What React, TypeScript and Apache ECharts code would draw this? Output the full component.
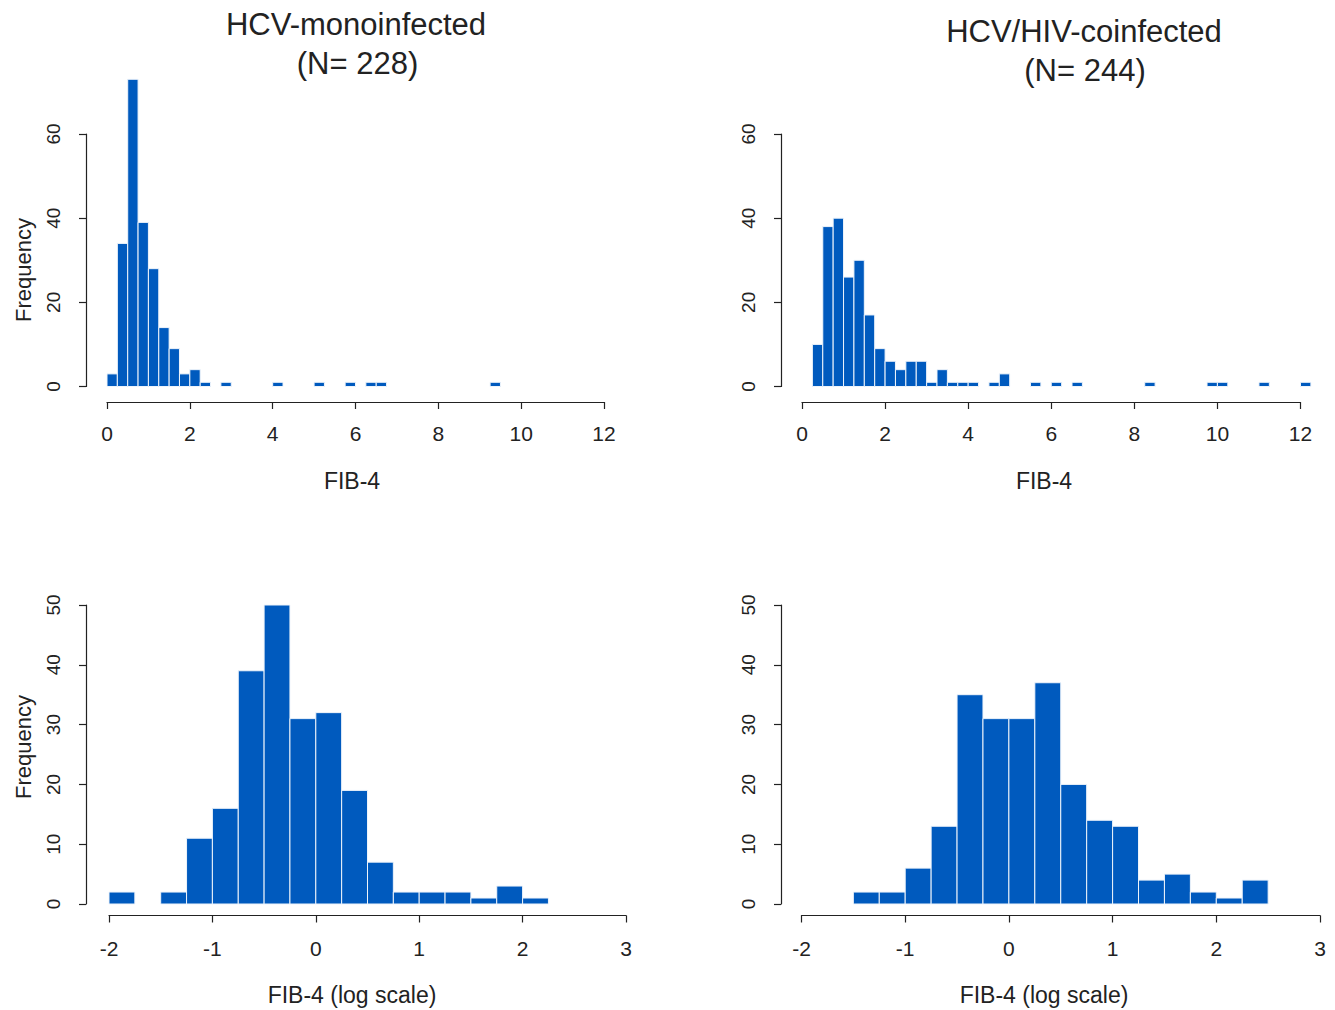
import React, { useEffect, useRef } from "react";
import * as echarts from "echarts";

// ---------- data ----------
// FIB-4 histograms, bin width 0.25 starting at 0 (linear scale)
const LINEAR_BIN_START = 0;
const LINEAR_BIN_WIDTH = 0.25;
const monoLinearCounts = [
  3, 34, 73, 39, 28, 14, 9, 3, 4, 1, 0, 1, 0, 0, 0, 0, 1, 0, 0, 0, 1, 0, 0, 1, 0, 1, 1, 0, 0, 0, 0, 0, 0, 0, 0, 0, 0,
  1,
];
const coLinearCounts = [
  0, 10, 38, 40, 26, 30, 17, 9, 6, 4, 6, 6, 1, 4, 1, 1, 1, 0, 1, 3, 0, 0, 1, 0, 1, 0, 1, 0, 0, 0, 0, 0, 0, 1, 0, 0, 0,
  0, 0, 1, 1, 0, 0, 0, 1, 0, 0, 0, 1,
];
// log FIB-4 histograms, bin width 0.25 starting at -2
const LOG_BIN_START = -2;
const LOG_BIN_WIDTH = 0.25;
const monoLogCounts = [2, 0, 2, 11, 16, 39, 50, 31, 32, 19, 7, 2, 2, 2, 1, 3, 1];
const coLogCounts = [0, 0, 2, 2, 6, 13, 35, 31, 31, 37, 20, 14, 13, 4, 5, 2, 1, 4];

const titlesLeft = ["HCV-monoinfected", "(N= 228)"];
const titlesRight = ["HCV/HIV-coinfected", "(N= 244)"];
const xNameTop = "FIB-4";
const xNameBottom = "FIB-4 (log scale)";
const yName = "Frequency";

// ---------- styles ----------
const FONT = "'Liberation Sans', Arial, Helvetica, sans-serif";
const TEXT = "#222222";
const BAR_COLOR = "#005abe";
const BAR_EDGE = "#eef4fb";

export default function App() {
  const ref = useRef<HTMLDivElement>(null);

  useEffect(() => {
    if (!ref.current) return;
    const chart = echarts.init(ref.current, undefined, { renderer: "svg" });

    const grids = [
      { left: 107, top: 134, width: 497, height: 252.5 },
      { left: 802, top: 134, width: 498.5, height: 252.5 },
      { left: 109, top: 605, width: 517, height: 299 },
      { left: 801.5, top: 605, width: 518.5, height: 299 },
    ];

    const xCfg = [
      { min: 0, max: 12, interval: 2, offset: 15.5, margin: 21 },
      { min: 0, max: 12, interval: 2, offset: 15.5, margin: 21 },
      { min: -2, max: 3, interval: 1, offset: 11.5, margin: 22 },
      { min: -2, max: 3, interval: 1, offset: 11.5, margin: 22 },
    ];
    const yCfg = [
      { min: 0, max: 60, interval: 20, offset: 21 },
      { min: 0, max: 60, interval: 20, offset: 21 },
      { min: 0, max: 50, interval: 10, offset: 23 },
      { min: 0, max: 50, interval: 10, offset: 20.5 },
    ];

    const axisLine = { show: true, onZero: false, lineStyle: { color: "#222", width: 1.2 } };
    const axisTick = { show: true, length: 7, lineStyle: { color: "#222", width: 1.2 } };

    const xAxis = xCfg.map((c, i) => ({
      type: "value",
      gridIndex: i,
      min: c.min,
      max: c.max,
      interval: c.interval,
      offset: c.offset,
      position: "bottom",
      axisLine,
      axisTick,
      splitLine: { show: false },
      axisLabel: {
        show: true,
        fontSize: 21,
        fontFamily: FONT,
        color: TEXT,
        margin: c.margin,
        showMinLabel: true,
        showMaxLabel: true,
      },
    }));

    const yAxis = yCfg.map((c, i) => ({
      type: "value",
      gridIndex: i,
      min: c.min,
      max: c.max,
      interval: c.interval,
      offset: c.offset,
      position: "left",
      axisLine,
      axisTick,
      splitLine: { show: false },
      axisLabel: {
        show: true,
        rotate: 90,
        fontSize: 19,
        fontFamily: FONT,
        color: TEXT,
        margin: 23,
        showMinLabel: true,
        showMaxLabel: true,
      },
    }));

    const histSeries = (idx: number, start: number, width: number, counts: number[]) => {
      const data = counts
        .map((c, i) => [start + i * width, start + (i + 1) * width, c])
        .filter((d) => d[2] > 0);
      return {
        type: "custom",
        xAxisIndex: idx,
        yAxisIndex: idx,
        clip: false,
        silent: true,
        data,
        encode: { x: [0, 1], y: 2 },
        renderItem: (_params: any, api: any) => {
          const x0 = api.value(0);
          const x1 = api.value(1);
          const c = api.value(2);
          const p0 = api.coord([x0, c]);
          const p1 = api.coord([x1, 0]);
          return {
            type: "rect",
            shape: { x: p0[0], y: p0[1], width: p1[0] - p0[0], height: p1[1] - p0[1] },
            style: { fill: BAR_COLOR, stroke: BAR_EDGE, lineWidth: 1 },
          };
        },
      };
    };

    const txt = (text: string, x: number, y: number, size: number, rotation = 0) => ({
      type: "text",
      x,
      y,
      rotation,
      silent: true,
      style: {
        text,
        fill: TEXT,
        font: `${size}px ${FONT}`,
        textAlign: "center",
        textVerticalAlign: "middle",
      },
    });

    chart.setOption({
      animation: false,
      backgroundColor: "#ffffff",
      grid: grids.map((g) => ({ ...g, containLabel: false, outerBoundsMode: "none" })),
      xAxis,
      yAxis,
      series: [
        histSeries(0, LINEAR_BIN_START, LINEAR_BIN_WIDTH, monoLinearCounts),
        histSeries(1, LINEAR_BIN_START, LINEAR_BIN_WIDTH, coLinearCounts),
        histSeries(2, LOG_BIN_START, LOG_BIN_WIDTH, monoLogCounts),
        histSeries(3, LOG_BIN_START, LOG_BIN_WIDTH, coLogCounts),
      ],
      graphic: [
        txt(titlesLeft[0], 356, 24, 31),
        txt(titlesLeft[1], 357.5, 63, 31),
        txt(titlesRight[0], 1084, 31, 31),
        txt(titlesRight[1], 1085, 70, 31),
        txt(xNameTop, 352, 481, 23),
        txt(xNameTop, 1044, 481, 23),
        txt(xNameBottom, 352, 995, 23),
        txt(xNameBottom, 1044, 995, 23),
        txt(yName, 23, 270, 22, Math.PI / 2),
        txt(yName, 23, 747, 22, Math.PI / 2),
      ],
    });

    return () => chart.dispose();
  }, []);

  return (
    <div
      ref={ref}
      style={{ position: "fixed", left: 0, top: 0, width: 1335, height: 1010, background: "#fff" }}
    />
  );
}
